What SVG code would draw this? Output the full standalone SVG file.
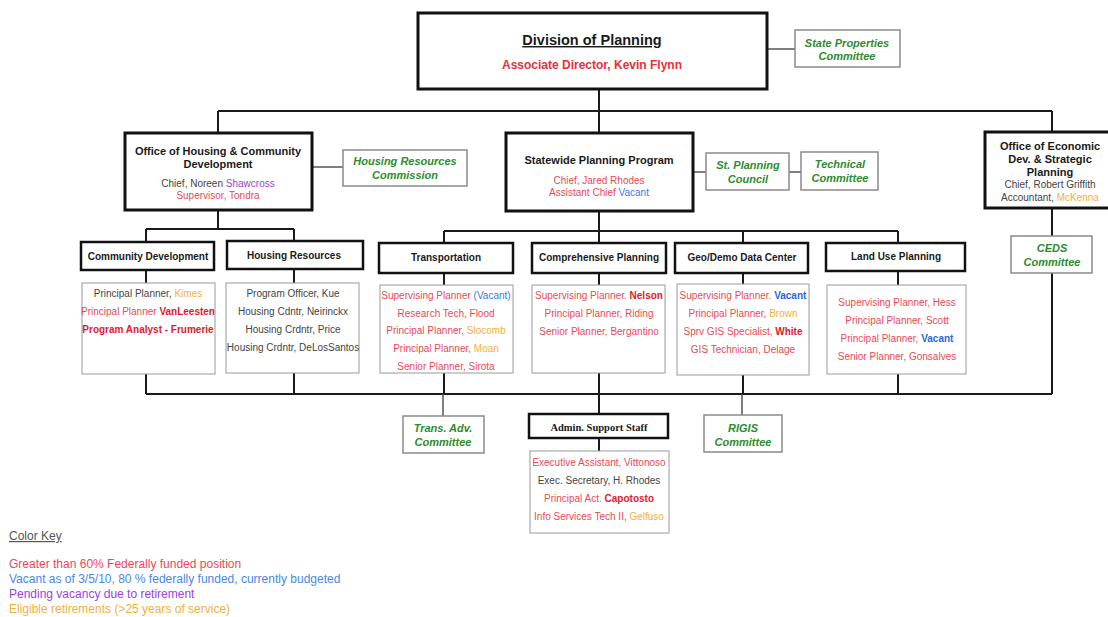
<svg xmlns="http://www.w3.org/2000/svg" width="1108" height="617" viewBox="0 0 1108 617">
<style>
text{font-family:"Liberation Sans",Arial,sans-serif;text-anchor:middle}
.hb{fill:#fff;stroke:#111;stroke-width:3}
.sb{fill:#fff;stroke:#111;stroke-width:2.5}
.db{fill:#fff;stroke:#9a9a9a;stroke-width:1}
.cb{fill:#fff;stroke:#8a8a8a;stroke-width:1.5}
.ln{fill:none;stroke:#1a1a1a;stroke-width:2}
.gl{fill:none;stroke:#555;stroke-width:1.5}
.h{font-size:11px;font-weight:bold;fill:#1a1a1a}
.sh{font-size:10px;font-weight:bold;fill:#1a1a1a}
.d{font-size:10px;fill:#444}
.cm{font-size:11px;font-weight:bold;font-style:italic;fill:#2e8b2e}
.r{fill:#e84a55}
.rb{fill:#e01a2a;font-weight:bold}
.o{fill:#f0b040}
.b{fill:#3a78e0}
.bb{fill:#2a68d8;font-weight:bold}
.p{fill:#a040e0}
.g{fill:#444}
.k{font-size:12px;text-anchor:start}
</style>
<g id="connectors">
<path class="ln" d="M599 89V111M218 111H1052M218 111V133M599 111V133M1052 111V132"/>
<path class="gl" d="M767 49H795M312 167H343M693 172H706M789 172H801"/>
<path class="ln" d="M218 210V229M146 229H294M146 229V242M294 229V241"/>
<path class="ln" d="M599 211V231M444 231H898M444 231V243M599 231V243M743 231V243M898 231V243"/>
<path class="ln" d="M146 270V283M294 269V283M444 273V285M599 273V285M743 273V284M898 271V285"/>
<path class="ln" d="M146 374V394M294 373V394M444 373V394M599 373V394M743 375V394M898 374V394M146 394H1052M1052 208V236M1052 273V394"/>
<path class="gl" d="M443 394V416M742 394V415"/>
<path class="ln" d="M599 394V414M599 438V451"/>
</g>
<g id="division">
<rect class="hb" x="418" y="13" width="349" height="76"/>
<text x="592" y="45" style="font-size:14.5px;font-weight:bold;fill:#1a1a1a;text-decoration:underline">Division of Planning</text>
<text x="592" y="69" style="font-size:12px;font-weight:bold;fill:#e8303a">Associate Director, Kevin Flynn</text>
</g>
<g id="state-properties">
<rect class="cb" x="795" y="30" width="105" height="37"/>
<text class="cm" x="847" y="47">State Properties</text>
<text class="cm" x="847" y="60">Committee</text>
</g>
<g id="housing-office">
<rect class="hb" x="125" y="133" width="187" height="77"/>
<text class="h" x="218" y="155">Office of Housing &amp; Community</text>
<text class="h" x="218" y="168">Development</text>
<text class="d" x="218" y="187">Chief, Noreen <tspan class="p">Shawcross</tspan></text>
<text class="d r" x="218" y="199">Supervisor, Tondra</text>
</g>
<g id="housing-commission">
<rect class="cb" x="343" y="150" width="124" height="36"/>
<text class="cm" x="405" y="165">Housing Resources</text>
<text class="cm" x="405" y="179">Commission</text>
</g>
<g id="statewide">
<rect class="hb" x="506" y="133" width="187" height="78"/>
<text class="h" x="599" y="164">Statewide Planning Program</text>
<text class="d r" x="599" y="184">Chief, Jared Rhodes</text>
<text class="d r" x="599" y="196">Assistant Chief <tspan class="b">Vacant</tspan></text>
</g>
<g id="st-planning-council">
<rect class="cb" x="706" y="153" width="83" height="37"/>
<text class="cm" x="748" y="169">St. Planning</text>
<text class="cm" x="748" y="183">Council</text>
</g>
<g id="technical-committee">
<rect class="cb" x="801" y="152" width="77" height="38"/>
<text class="cm" x="840" y="168">Technical</text>
<text class="cm" x="840" y="182">Committee</text>
</g>
<g id="economic-office">
<rect class="hb" x="985" y="132" width="130" height="76"/>
<text class="h" x="1050" y="150">Office of Economic</text>
<text class="h" x="1050" y="163">Dev. &amp; Strategic</text>
<text class="h" x="1050" y="176">Planning</text>
<text class="d" x="1050" y="188">Chief, Robert Griffith</text>
<text class="d" x="1050" y="201">Accountant, <tspan class="o">McKenna</tspan></text>
</g>
<g id="ceds">
<rect class="cb" x="1011" y="236" width="81" height="37"/>
<text class="cm" x="1052" y="252">CEDS</text>
<text class="cm" x="1052" y="266">Committee</text>
</g>
<g id="community-development">
<rect class="sb" x="81" y="242" width="133" height="28"/>
<text class="sh" x="148" y="260">Community Development</text>
<rect class="db" x="82" y="283" width="133" height="91"/>
<text class="d" x="148" y="297">Principal Planner, <tspan class="o">Kimes</tspan></text>
<text class="d r" x="148" y="315">Principal Planner <tspan class="rb">VanLeesten</tspan></text>
<text class="d rb" x="148" y="333">Program Analyst - Frumerie</text>
</g>
<g id="housing-resources">
<rect class="sb" x="227" y="241" width="136" height="28"/>
<text class="sh" x="294" y="259">Housing Resources</text>
<rect class="db" x="226" y="283" width="133" height="90"/>
<text class="d" x="293" y="297">Program Officer, Kue</text>
<text class="d" x="293" y="315">Housing Cdntr, Neirinckx</text>
<text class="d" x="293" y="333">Housing Crdntr, Price</text>
<text class="d" x="293" y="351">Housing Crdntr, DeLosSantos</text>
</g>
<g id="transportation">
<rect class="sb" x="379" y="243" width="134" height="30"/>
<text class="sh" x="446" y="261">Transportation</text>
<rect class="db" x="380" y="285" width="133" height="88"/>
<text class="d r" x="446" y="299">Supervising Planner <tspan class="b">(Vacant)</tspan></text>
<text class="d r" x="446" y="317">Research Tech,  Flood</text>
<text class="d r" x="446" y="334">Principal Planner, <tspan class="o">Slocomb</tspan></text>
<text class="d r" x="446" y="352">Principal Planner, <tspan class="o">Moan</tspan></text>
<text class="d r" x="446" y="370">Senior Planner, Sirota</text>
</g>
<g id="comprehensive">
<rect class="sb" x="532" y="243" width="134" height="30"/>
<text class="sh" x="599" y="261">Comprehensive Planning</text>
<rect class="db" x="532" y="285" width="133" height="88"/>
<text class="d r" x="599" y="299">Supervising Planner. <tspan class="rb">Nelson</tspan></text>
<text class="d r" x="599" y="317">Principal Planner, Riding</text>
<text class="d r" x="599" y="335">Senior Planner, Bergantino</text>
</g>
<g id="geo-demo">
<rect class="sb" x="675" y="243" width="133" height="30"/>
<text class="sh" x="742" y="261">Geo/Demo Data Center</text>
<rect class="db" x="677" y="284" width="132" height="91"/>
<text class="d r" x="743" y="299">Supervising Planner. <tspan class="bb">Vacant</tspan></text>
<text class="d r" x="743" y="317">Principal Planner, <tspan class="o">Brown</tspan></text>
<text class="d r" x="743" y="335">Sprv GIS Specialist, <tspan class="rb">White</tspan></text>
<text class="d r" x="743" y="353">GIS Technician, Delage</text>
</g>
<g id="land-use">
<rect class="sb" x="826" y="243" width="139" height="28"/>
<text class="sh" x="896" y="260">Land Use Planning</text>
<rect class="db" x="827" y="285" width="139" height="89"/>
<text class="d r" x="897" y="306">Supervising Planner, Hess</text>
<text class="d r" x="897" y="324">Principal Planner, Scott</text>
<text class="d r" x="897" y="342">Principal Planner, <tspan class="bb">Vacant</tspan></text>
<text class="d r" x="897" y="360">Senior Planner, Gonsalves</text>
</g>
<g id="trans-adv">
<rect class="cb" x="403" y="416" width="81" height="37"/>
<text class="cm" x="443" y="432">Trans. Adv.</text>
<text class="cm" x="443" y="446">Committee</text>
</g>
<g id="admin-support">
<rect class="sb" x="529" y="414" width="139" height="24"/>
<text x="599" y="431" style="font-family:'Liberation Serif','Times New Roman',serif;font-size:10.5px;font-weight:bold;fill:#1a1a1a">Admin. Support Staff</text>
<rect class="db" x="530" y="451" width="139" height="82"/>
<text class="d r" x="599" y="466">Executive Assistant, Vittonoso</text>
<text class="d" x="599" y="484">Exec. Secretary, H. Rhodes</text>
<text class="d r" x="599" y="502">Principal Act. <tspan class="rb">Capotosto</tspan></text>
<text class="d r" x="599" y="520">Info Services Tech II, <tspan class="o">Gelfuso</tspan></text>
</g>
<g id="rigis">
<rect class="cb" x="704" y="415" width="78" height="37"/>
<text class="cm" x="743" y="432">RIGIS</text>
<text class="cm" x="743" y="446">Committee</text>
</g>
<g id="color-key">
<text class="k" x="9" y="540" style="fill:#555;text-decoration:underline">Color Key</text>
<text class="k" x="9" y="568" style="fill:#e84a55">Greater than 60% Federally funded position</text>
<text class="k" x="9" y="583" style="fill:#4a88e8">Vacant as of 3/5/10, 80 % federally funded, currently budgeted</text>
<text class="k" x="9" y="598" style="fill:#a040e0">Pending vacancy due to retirement</text>
<text class="k" x="9" y="613" style="fill:#f0b040">Eligible retirements (&gt;25 years of service)</text>
</g>
</svg>
